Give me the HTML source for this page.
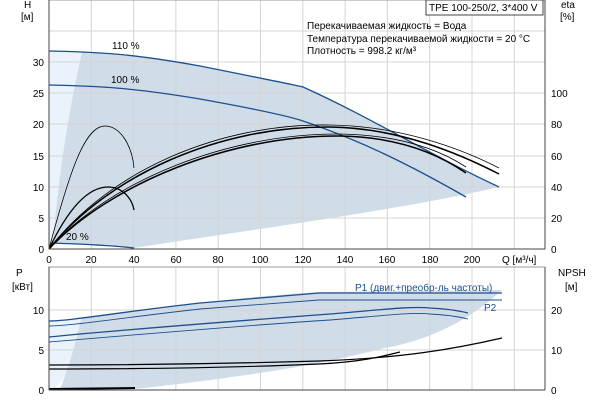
<!DOCTYPE html>
<html><head><meta charset="utf-8"><style>
body{margin:0;background:#fff}
svg{display:block;font-family:"Liberation Sans",sans-serif;font-size:10px}
</style></head><body>
<svg width="600" height="400" viewBox="0 0 600 400">
<path d="M49,51 L82,52 Q60,150 53,243 L49,249 Z" fill="#eaf3fb"/>
<path d="M82,52 C100,53 134,54 200,66 C260,78 290,84 303,87 C372,118 430,155 499,187 C400,210 250,230 134,248 C110,246 70,244 53,243 Q60,150 82,52 Z" fill="#d0dce8"/>
<g stroke="#d4d4d4" stroke-width="1">
<line x1="91.3" y1="0" x2="91.3" y2="249"/><line x1="133.6" y1="0" x2="133.6" y2="249"/><line x1="175.9" y1="0" x2="175.9" y2="249"/><line x1="218.2" y1="0" x2="218.2" y2="249"/><line x1="260.5" y1="0" x2="260.5" y2="249"/><line x1="302.8" y1="0" x2="302.8" y2="249"/><line x1="345.1" y1="0" x2="345.1" y2="249"/><line x1="387.4" y1="0" x2="387.4" y2="249"/><line x1="429.7" y1="0" x2="429.7" y2="249"/><line x1="472" y1="0" x2="472" y2="249"/><line x1="514.3" y1="0" x2="514.3" y2="249"/>
<line x1="49" y1="218" x2="545" y2="218"/><line x1="49" y1="187" x2="545" y2="187"/><line x1="49" y1="156" x2="545" y2="156"/><line x1="49" y1="124" x2="545" y2="124"/><line x1="49" y1="93" x2="545" y2="93"/><line x1="49" y1="62" x2="545" y2="62"/><line x1="49" y1="31" x2="545" y2="31"/>
</g>
<g fill="none" stroke="#1c4f8f" stroke-width="1.3">
<path d="M49,51 C100,52 134,54 200,66 C260,78 290,84 303,87 C372,118 430,155 499,187"/>
<path d="M49,85 C100,86 134,88 200,99 C250,108 280,114 300,120 C360,140 410,165 466,197"/>
<path d="M52,243 C80,244 110,245 134,248"/>
</g>
<g fill="none" stroke="#000">
<path d="M49,249 C110,170 220,123 330,125 C400,126 460,148 499,168" stroke-width="0.8"/>
<path d="M49,249 C110,174 220,126 330,127 C400,128 460,154 499,174" stroke-width="1.5"/>
<path d="M49,249 C110,180 230,133 340,134 C400,135 440,150 466,167" stroke-width="0.8"/>
<path d="M49,249 C110,184 230,135 340,136 C400,137 440,155 466,173" stroke-width="1.5"/>
<path d="M49,249 C70,170 85,126 105,126 C120,126 132,145 134,168" stroke-width="0.8"/>
<path d="M49,249 C70,205 90,187 108,187 C122,187 132,198 134,210" stroke-width="1.3"/>
</g>
<rect x="49" y="0" width="496" height="249" fill="none" stroke="#999"/>
<line x1="545" y1="0" x2="545" y2="249" stroke="#444"/>
<line x1="49" y1="249" x2="545" y2="249" stroke="#444"/>
<line x1="49" y1="0" x2="49" y2="249" stroke="#444"/>
<g fill="#000" text-anchor="end">
<text x="44" y="253">0</text><text x="44" y="222">5</text><text x="44" y="191">10</text><text x="44" y="160">15</text><text x="44" y="128">20</text><text x="44" y="97">25</text><text x="44" y="66">30</text>
</g>
<g fill="#000">
<text x="551" y="253">0</text><text x="551" y="222">20</text><text x="551" y="191">40</text><text x="551" y="160">60</text><text x="551" y="128">80</text><text x="551" y="97">100</text>
<text x="24" y="8">H</text><text x="21" y="20">[м]</text>
<text x="561" y="8">eta</text><text x="560" y="20">[%]</text>
<text x="112" y="49">110 %</text><text x="111" y="83">100 %</text><text x="66" y="240">20 %</text>
</g>
<g fill="#000" text-anchor="middle">
<text x="49" y="263">0</text><text x="91" y="263">20</text><text x="134" y="263">40</text><text x="176" y="263">60</text><text x="218" y="263">80</text><text x="260" y="263">100</text><text x="303" y="263">120</text><text x="345" y="263">140</text><text x="387" y="263">160</text><text x="430" y="263">180</text><text x="472" y="263">200</text>
</g>
<text x="502" y="263" fill="#000">Q [м³/ч]</text>
<rect x="426" y="0" width="117" height="15" fill="#fff" stroke="#444"/>
<text x="429" y="11" fill="#000">TPE 100-250/2, 3*400 V</text>
<text x="307" y="29" fill="#000">Перекачиваемая жидкость = Вода</text>
<text x="307" y="42" fill="#000">Температура перекачиваемой жидкости = 20 °C</text>
<text x="307" y="54" fill="#000">Плотность = 998.2 кг/м³</text>
<path d="M49,320 L81,320 Q72,360 68,371 Q60,385 52,390 L49,390 Z" fill="#eaf3fb"/>
<path d="M81,319 C150,308 250,296 319,292 L502,290 C470,320 430,340 385,348 C330,362 270,374 135,389 L60,389 Q72,360 81,319 Z" fill="#d0dce8"/>
<g stroke="#d4d4d4">
<line x1="91.3" y1="267" x2="91.3" y2="390"/><line x1="133.6" y1="267" x2="133.6" y2="390"/><line x1="175.9" y1="267" x2="175.9" y2="390"/><line x1="218.2" y1="267" x2="218.2" y2="390"/><line x1="260.5" y1="267" x2="260.5" y2="390"/><line x1="302.8" y1="267" x2="302.8" y2="390"/><line x1="345.1" y1="267" x2="345.1" y2="390"/><line x1="387.4" y1="267" x2="387.4" y2="390"/><line x1="429.7" y1="267" x2="429.7" y2="390"/><line x1="472" y1="267" x2="472" y2="390"/><line x1="514.3" y1="267" x2="514.3" y2="390"/>
<line x1="49" y1="350" x2="545" y2="350"/><line x1="49" y1="310" x2="545" y2="310"/>
</g>
<g fill="none" stroke="#1c4f8f" stroke-width="1.3">
<path d="M49,321 C70,321 120,312 200,303 L319,293 L502,293"/>
<path d="M49,326 C70,326 120,318 200,309 L319,300 L502,300" stroke-width="0.9"/>
<path d="M49,337 C120,330 250,320 330,314 C380,310 410,306 430,308 C450,309 460,311 468,313"/>
<path d="M49,342 C120,336 250,325 330,320 C380,316 410,312 430,314 C450,315 460,317 468,319" stroke-width="0.9"/>
</g>
<g fill="none" stroke="#000">
<path d="M49,365 C150,365 250,363 319,361 C400,358 450,350 502,338" stroke-width="1.2"/>
<path d="M49,369 C150,369 250,367 319,364 C360,362 380,357 400,352" stroke-width="1.2"/>
<path d="M49,389 L135,388" stroke-width="2"/>
</g>
<rect x="49" y="267" width="496" height="123" fill="none" stroke="#999"/>
<line x1="545" y1="267" x2="545" y2="390" stroke="#444"/>
<line x1="49" y1="267" x2="49" y2="390" stroke="#444"/>
<line x1="49" y1="390" x2="545" y2="390" stroke="#444"/>
<g fill="#000" text-anchor="end"><text x="44" y="394">0</text><text x="44" y="354">5</text><text x="44" y="314">10</text></g>
<g fill="#000"><text x="551" y="394">0</text><text x="551" y="354">10</text><text x="551" y="314">20</text>
<text x="16" y="276">P</text><text x="12" y="290">[кВт]</text>
<text x="558" y="276">NPSH</text><text x="565" y="290">[м]</text></g>
<text x="355" y="291" fill="#1c4f8f">P1 (двиг.+преобр-ль частоты)</text>
<text x="484" y="311" fill="#1c4f8f">P2</text>
</svg>
</body></html>
